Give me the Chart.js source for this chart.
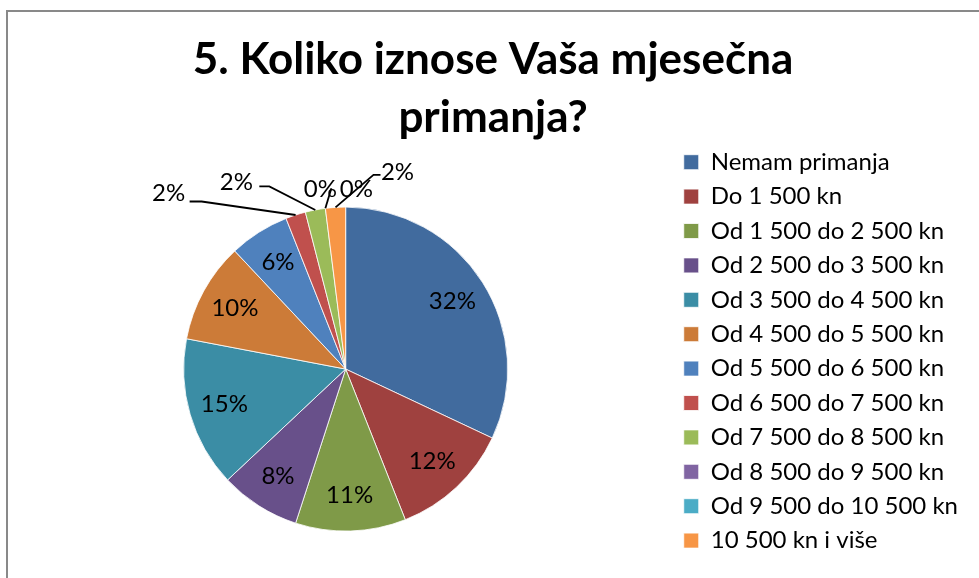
<!DOCTYPE html>
<html>
<head>
<meta charset="utf-8">
<script src="https://cdn.jsdelivr.net/npm/chart.js@4"></script>
<style>
  html, body { margin: 0; padding: 0; background: #fff; overflow: hidden; }
</style>
</head>
<body>
<canvas id="pieChart" width="979" height="578"></canvas>
<script>
// ========================================
// PIE : mjesečna primanja
// ========================================

const categories = [
    "Nemam primanja",
    "Do 1 500 kn",
    "Od 1 500 do 2 500 kn",
    "Od 2 500 do 3 500 kn",
    "Od 3 500 do 4 500 kn",
    "Od 4 500 do 5 500 kn",
    "Od 5 500 do 6 500 kn",
    "Od 6 500 do 7 500 kn",
    "Od 7 500 do 8 500 kn",
    "Od 8 500 do 9 500 kn",
    "Od 9 500 do 10 500 kn",
    "10 500 kn i više"
];

const percents = [32, 12, 11, 8, 15, 10, 6, 2, 2, 0, 0, 2];

const sliceColors = [
    "#416B9E", "#9F413F", "#7F9A48", "#68508A", "#3B8DA5", "#CC7B38",
    "#4F81BD", "#C0504D", "#9BBB59", "#8064A2", "#4BACC6", "#F79646"
];

const titleLines = ["5. Koliko iznose Vaša mjesečna", "primanja?"];

// small slices: label offset from the slice edge + leader points (relative to label)
const outsideLabels = {
    7:  { dx: -127, dy: -22, leader: [[33, 8.5], [21, 8.5]] },
    8:  { dx: -79,  dy: -28, leader: [[33, 4.5], [23, 4.5]] },
    9:  { dx: -5,   dy: -19, leader: [[11, -1]] },
    10: { dx: 31,   dy: -19, leader: [] },
    11: { dx: 62,   dy: -35, leader: [[-24, 2.5], [-17, 2.5]] }
};

// cadre gris
const framePlugin = {
    id: "frame",
    beforeDraw(chart) {
        const ctx = chart.ctx;
        ctx.save();
        ctx.fillStyle = "#898989";
        ctx.fillRect(6, 10, 2, chart.height - 10);
        ctx.fillRect(6, 10, chart.width - 6, 2);
        ctx.restore();
    }
};

// étiquettes en %
const labelPlugin = {
    id: "sliceLabels",
    afterDatasetsDraw(chart) {
        const ctx = chart.ctx;
        const meta = chart.getDatasetMeta(0);
        ctx.save();
        ctx.font = "24px Lato";
        ctx.fillStyle = "#000";
        ctx.strokeStyle = "#000";
        ctx.lineWidth = 1.8;
        ctx.textAlign = "center";
        ctx.textBaseline = "middle";
        meta.data.forEach((arc, i) => {
            const p = arc.getProps(["x", "y", "startAngle", "endAngle", "outerRadius"], true);
            const mid = (p.startAngle + p.endAngle) / 2;
            const text = percents[i] + "%";
            const out = outsideLabels[i];
            if (!out) {
                const r = p.outerRadius * 0.78;
                ctx.fillText(text, p.x + Math.cos(mid) * r, p.y + Math.sin(mid) * r);
                return;
            }
            const ex = p.x + Math.cos(mid) * p.outerRadius;
            const ey = p.y + Math.sin(mid) * p.outerRadius;
            const lx = ex + out.dx;
            const ly = ey + out.dy;
            if (out.leader.length) {
                ctx.beginPath();
                ctx.moveTo(ex, ey);
                out.leader.forEach(([ax, ay]) => ctx.lineTo(lx + ax, ly + ay));
                ctx.stroke();
            }
            ctx.fillText(text, lx, ly);
        });
        ctx.restore();
    }
};

const ctx = document.getElementById("pieChart").getContext("2d");

new Chart(ctx, {
    type: "pie",
    data: {
        labels: categories,
        datasets: [{
            data: percents,
            backgroundColor: sliceColors,
            borderColor: "#ffffff",
            borderWidth: 0.8,
            radius: 162
        }]
    },
    options: {
        responsive: false,
        animation: false,
        devicePixelRatio: 1,
        layout: {
            padding: { left: 18, right: 11, top: 0, bottom: 15 }
        },
        plugins: {
            title: {
                display: true,
                text: titleLines,
                color: "#000",
                font: { family: "Lato", size: 44, weight: "bold", lineHeight: 1.32 },
                padding: { top: 31, bottom: 28 }
            },
            legend: {
                position: "right",
                align: "end",
                labels: {
                    color: "#000",
                    font: { family: "Lato", size: 24 },
                    boxWidth: 15,
                    boxHeight: 15,
                    padding: 10.4
                }
            },
            tooltip: { enabled: false }
        }
    },
    plugins: [framePlugin, labelPlugin]
});
</script>
</body>
</html>
